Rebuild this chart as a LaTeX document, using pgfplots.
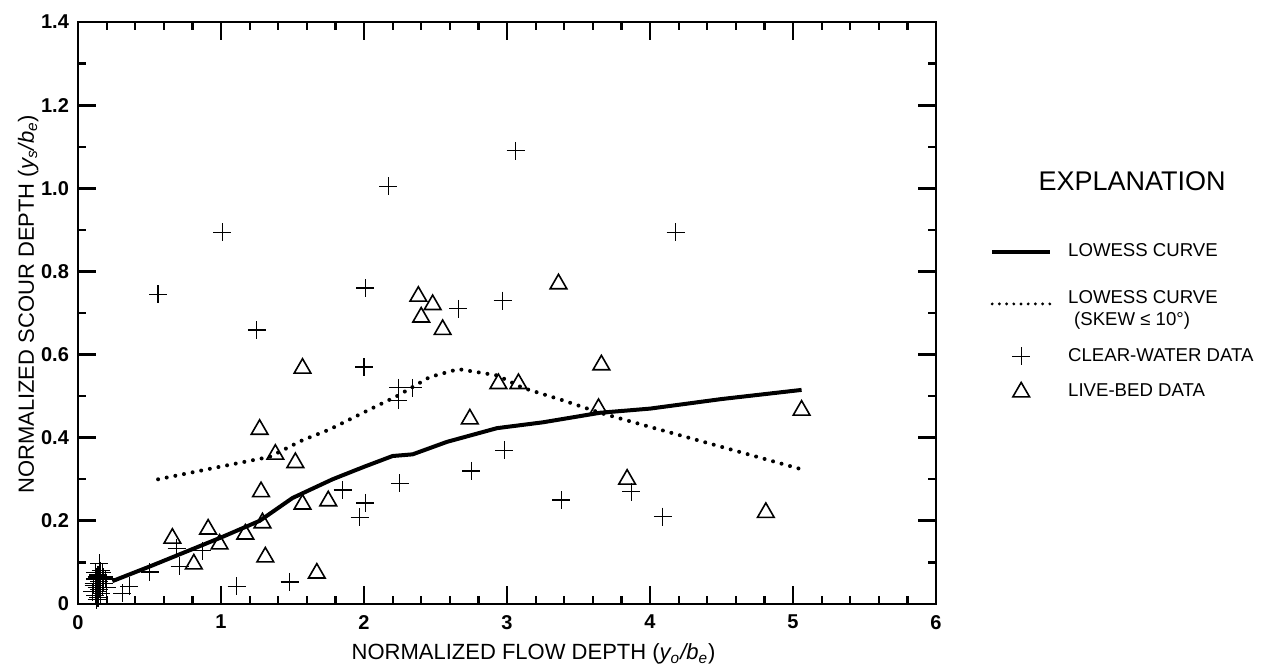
\documentclass[border=0pt]{standalone}
\usepackage{fontspec}
\setmainfont{Liberation Sans}
\usepackage{pgfplots}
\pgfplotsset{compat=1.18}
\pgfplotsset{
  lineleg/.style={legend image code/.code={\draw[##1] (0pt,0pt) -- (29pt,0pt);}},
  dotleg/.style={legend image code/.code={\path[draw=none, fill=none] (0pt,-13pt) rectangle (29pt,0pt);
      \draw[##1, line width=1.6pt, dash pattern=on 0pt off 3.6pt] (0pt,0pt) -- (29pt,0pt);}},
  markleg/.style={legend image code/.code={\draw[##1] plot coordinates {(14.5pt,0pt)};}},
}

\begin{document}
\begin{tikzpicture}
\path[use as bounding box] (-39pt,-30pt) rectangle (591.5pt,302pt);
\begin{axis}[
    at={(0,0)}, anchor=south west,
    scale only axis,
    width=429pt, height=291pt,
    xmin=0, xmax=6, ymin=0, ymax=1.4,
    xtick={0,1,2,3,4,5,6},
    xticklabels={0,1,2,3,4,5,6},
    ytick={0,0.2,0.4,0.6,0.8,1.0,1.2,1.4},
    yticklabels={0,0.2,0.4,0.6,0.8,1.0,1.2,1.4},
    minor x tick num=4,
    minor y tick num=1,
    tick align=inside,
    major tick length=9pt,
    minor tick length=4pt,
    major tick style={line width=1.4pt, black},
    minor tick style={line width=1.1pt, black},
    axis line style={line width=1.1pt},
    ticklabel style={font=\fontsize{10}{11}\selectfont\bfseries},
    xticklabel style={yshift=-2pt},
    yticklabel style={xshift=-1pt},
    label style={font=\fontsize{11}{12}\selectfont},
    xlabel={NORMALIZED FLOW DEPTH (\textit{y\textsubscript{o}/b\textsubscript{e}})},
    ylabel={NORMALIZED SCOUR DEPTH (\textit{y\textsubscript{s}/b\textsubscript{e}})},
    xlabel style={at={(axis description cs:0.531,-0.086)}, anchor=center},
    ylabel style={at={(axis description cs:-0.058,0.515)}, anchor=center},
    clip=false,
    legend style={draw=none, fill=none, at={(1.0557,0.63)}, anchor=north west,
        font=\fontsize{9.3}{11}\selectfont, row sep=8pt, column sep=0pt,
        nodes={align=left, inner sep=1pt}},
    legend cell align=left,
]
% LOWESS curve, all data
\addplot[black, line width=2pt, line join=round, lineleg]
coordinates {
(0.24,0.055) (0.5,0.09) (0.75,0.125) (1.0,0.16) (1.27,0.20) (1.5,0.255)
(1.78,0.30) (2.0,0.33) (2.2,0.356) (2.34,0.36) (2.58,0.39) (2.93,0.423)
(3.25,0.437) (3.65,0.46) (4.0,0.47) (4.5,0.493) (5.06,0.515)
};
\addlegendentry{\hspace*{7pt}LOWESS CURVE}
% LOWESS curve, skew <= 10
\addplot[black, line width=2pt, line cap=round, dash pattern=on 0pt off 4.4pt, dotleg]
coordinates {
(0.56,0.30) (0.99,0.33) (1.34,0.354) (1.57,0.394) (1.76,0.42) (2.04,0.468)
(2.23,0.50) (2.46,0.546) (2.66,0.565) (2.93,0.55) (3.11,0.52) (3.39,0.49)
(3.65,0.46) (4.0,0.426) (4.5,0.378) (5.06,0.324)
};
\addlegendentry{\rule{0pt}{11.7pt}\hspace*{7pt}LOWESS CURVE\\\rule[-7.5pt]{0pt}{1pt}\hspace*{10pt}(SKEW ≤ 10°)}
% clear-water data
\addplot[only marks, mark=+, mark size=4.5pt, black, line width=0.6pt, markleg]
coordinates {
(0.56,0.745) (1.01,0.894) (1.25,0.659) (2.17,1.005) (3.06,1.09) (2.01,0.76)
(2.00,0.57) (2.66,0.71) (2.97,0.73) (4.18,0.894) (2.24,0.52) (2.34,0.52)
(2.24,0.49) (2.98,0.37) (2.75,0.32) (2.25,0.29) (1.85,0.274) (2.01,0.243)
(1.97,0.209) (3.87,0.27) (3.38,0.25) (4.09,0.21) (0.69,0.134) (0.87,0.128)
(0.71,0.091) (0.50,0.077) (1.11,0.043) (1.48,0.053) (0.36,0.043) (0.15,0.098)
(0.31,0.026)
(0.10,0.03) (0.11,0.05) (0.12,0.06) (0.13,0.04) (0.14,0.07) (0.15,0.05)
(0.16,0.06) (0.17,0.04) (0.12,0.02) (0.14,0.03) (0.16,0.08) (0.18,0.05)
(0.13,0.065) (0.15,0.035) (0.19,0.06) (0.11,0.045) (0.17,0.075) (0.14,0.015)
(0.20,0.04) (0.16,0.025) (0.12,0.075) (0.18,0.065) (0.15,0.055) (0.13,0.01)
};
\addlegendentry{\hspace*{7pt}CLEAR-WATER DATA}
% live-bed data
\addplot[only marks, mark=triangle, mark size=4.8pt, black, line width=0.8pt, markleg]
coordinates {
(1.57,0.567) (2.38,0.74) (2.48,0.72) (2.40,0.69) (2.55,0.66) (3.36,0.77)
(3.66,0.575) (2.94,0.53) (3.08,0.53) (2.74,0.445) (3.64,0.47) (3.84,0.30)
(4.81,0.22) (5.06,0.466) (1.27,0.42) (1.38,0.36) (1.52,0.34) (1.28,0.27)
(1.57,0.24) (1.75,0.248) (1.29,0.195) (0.91,0.18) (0.66,0.158) (1.17,0.168)
(0.99,0.144) (0.81,0.096) (1.31,0.113) (1.67,0.074)
};
\addlegendentry{\hspace*{7pt}LIVE-BED DATA}
\node[font=\fontsize{13.5}{16}\selectfont] at (rel axis cs:1.2285,0.726) {EXPLANATION};
\end{axis}
\end{tikzpicture}
\end{document}
